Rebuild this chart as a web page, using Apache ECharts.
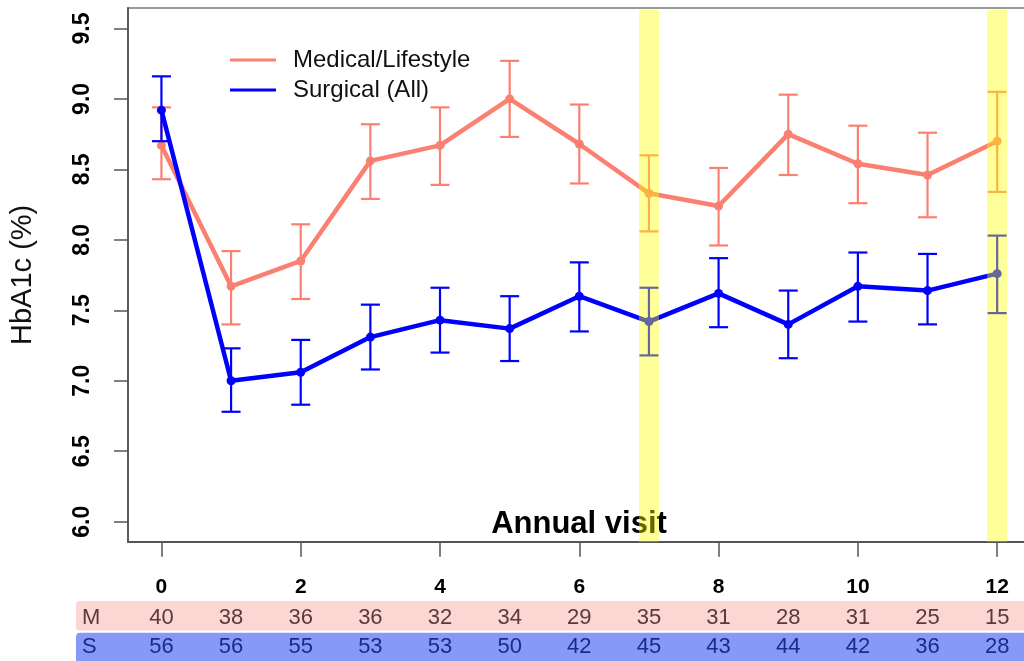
<!DOCTYPE html>
<html>
<head>
<meta charset="utf-8">
<title>HbA1c by annual visit</title>
<script src="https://cdn.jsdelivr.net/npm/echarts@6/dist/echarts.min.js"></script>
<style>
  html, body { margin: 0; padding: 0; background: #fff; overflow: hidden; }
  #chart { width: 1040px; height: 661px; }
</style>
</head>
<body>
<div id="chart"></div>
<script>
// Annual visit index
const visits = [0, 1, 2, 3, 4, 5, 6, 7, 8, 9, 10, 11, 12];
const evenTicks = [0, 2, 4, 6, 8, 10, 12];
const yTicks = [6.0, 6.5, 7.0, 7.5, 8.0, 8.5, 9.0, 9.5];

// Medical/Lifestyle group: mean HbA1c and error-bar limits
const medMean = [8.67, 7.67, 7.85, 8.56, 8.67, 9.00, 8.68, 8.33, 8.24, 8.75, 8.54, 8.46, 8.70];
const medLow  = [8.43, 7.40, 7.58, 8.29, 8.39, 8.73, 8.40, 8.06, 7.96, 8.46, 8.26, 8.16, 8.34];
const medHigh = [8.94, 7.92, 8.11, 8.82, 8.94, 9.27, 8.96, 8.60, 8.51, 9.03, 8.81, 8.76, 9.05];

// Surgical (All) group: mean HbA1c and error-bar limits
const surgMean = [8.92, 7.00, 7.06, 7.31, 7.43, 7.37, 7.60, 7.42, 7.62, 7.40, 7.67, 7.64, 7.76];
const surgLow  = [8.70, 6.78, 6.83, 7.08, 7.20, 7.14, 7.35, 7.18, 7.38, 7.16, 7.42, 7.40, 7.48];
const surgHigh = [9.16, 7.23, 7.29, 7.54, 7.66, 7.60, 7.84, 7.66, 7.87, 7.64, 7.91, 7.90, 8.03];

// Patients at risk per visit
const medN  = [40, 38, 36, 36, 32, 34, 29, 35, 31, 28, 31, 25, 15];
const surgN = [56, 56, 55, 53, 53, 50, 42, 45, 43, 44, 42, 36, 28];

// Highlighted visits
const highlightVisits = [7, 12];

const MED_COLOR = '#FA8072';
const SURG_COLOR = '#0000FF';
const FONT = '"Liberation Sans", Arial, Helvetica, sans-serif';

const chart = echarts.init(document.getElementById('chart'), null, { renderer: 'canvas' });

function errorBarRenderer(color) {
  return function (params, api) {
    const x = api.value(0);
    const lo = api.coord([x, api.value(1)]);
    const hi = api.coord([x, api.value(2)]);
    const cap = 9.5;
    const style = { stroke: color, lineWidth: 2.2 };
    return {
      type: 'group',
      children: [
        { type: 'line', shape: { x1: lo[0], y1: lo[1], x2: hi[0], y2: hi[1] }, style },
        { type: 'line', shape: { x1: lo[0] - cap, y1: lo[1], x2: lo[0] + cap, y2: lo[1] }, style },
        { type: 'line', shape: { x1: hi[0] - cap, y1: hi[1], x2: hi[0] + cap, y2: hi[1] }, style }
      ]
    };
  };
}

function countRenderer(rowY, color) {
  return function (params, api) {
    const p = api.coord([api.value(0), 7]);
    return {
      type: 'text',
      x: p[0],
      y: rowY,
      style: {
        text: String(api.value(1)),
        fill: color,
        font: '22px ' + FONT,
        align: 'center',
        verticalAlign: 'middle'
      }
    };
  };
}

const option = {
  animation: false,
  textStyle: { fontFamily: FONT },
  grid: {
    left: 128, top: 8, right: 9.4, bottom: 119.3,
    show: true, borderColor: '#7a7a7a', borderWidth: 1.5, backgroundColor: 'transparent'
  },
  legend: {
    orient: 'vertical',
    left: 225,
    top: 43,
    icon: 'rect',
    itemWidth: 46,
    itemHeight: 3,
    itemGap: 6,
    data: ['Medical/Lifestyle', 'Surgical (All)'],
    textStyle: { fontSize: 24, lineHeight: 24, color: '#111', padding: [0, 0, 0, 12] }
  },
  xAxis: {
    type: 'value',
    min: -0.48,
    max: 12.48,
    axisLine: { show: true, onZero: false, lineStyle: { color: '#555', width: 1.8 } },
    axisTick: { show: true, length: 15, customValues: evenTicks, lineStyle: { color: '#555', width: 1.5 } },
    axisLabel: {
      customValues: evenTicks, margin: 35,
      fontSize: 21, fontWeight: 'bold', color: '#000'
    },
    splitLine: { show: false }
  },
  yAxis: {
    type: 'value',
    min: 5.858,
    max: 9.645,
    name: 'HbA1c (%)',
    nameLocation: 'middle',
    nameGap: 105,
    nameTextStyle: { fontSize: 29, color: '#111', verticalAlign: 'middle' },
    axisLine: { show: true, onZero: false, lineStyle: { color: '#555', width: 1.8 } },
    axisTick: { show: true, length: 14, customValues: yTicks, lineStyle: { color: '#555', width: 1.5 } },
    axisLabel: {
      customValues: yTicks, rotate: 90, margin: 34,
      fontSize: 23, fontWeight: 'bold', color: '#000',
      formatter: v => v.toFixed(1)
    },
    splitLine: { show: false }
  },
  graphic: [
    { type: 'rect', shape: { x: 76, y: 601, width: 1000, height: 29.5, r: 4 }, style: { fill: '#fbd6d2' }, z: 0 },
    { type: 'rect', shape: { x: 76, y: 632.7, width: 1000, height: 40, r: 4 }, style: { fill: '#8799f6' }, z: 0 },
    { type: 'text', x: 82, y: 618, style: { text: 'M', font: '22px ' + FONT, fill: '#5a3a38', verticalAlign: 'middle' }, z: 1 },
    { type: 'text', x: 82, y: 647, style: { text: 'S', font: '22px ' + FONT, fill: '#1a2a8a', verticalAlign: 'middle' }, z: 1 },
    // x-axis title, drawn inside the plot just above the axis line
    { type: 'text', x: 579, y: 524, style: { text: 'Annual visit', font: 'bold 31px ' + FONT, fill: '#000', align: 'center', verticalAlign: 'middle' }, z: 1 }
  ],
  series: [
    {
      name: 'Medical/Lifestyle',
      type: 'line',
      data: visits.map((v, i) => [v, medMean[i]]),
      color: MED_COLOR,
      lineStyle: { width: 4.5 },
      symbol: 'circle',
      symbolSize: 9,
      z: 3
    },
    {
      name: 'Medical/Lifestyle',
      type: 'custom',
      data: visits.map((v, i) => [v, medLow[i], medHigh[i]]),
      renderItem: errorBarRenderer(MED_COLOR),
      z: 3
    },
    {
      name: 'Surgical (All)',
      type: 'line',
      data: visits.map((v, i) => [v, surgMean[i]]),
      color: SURG_COLOR,
      lineStyle: { width: 4.5 },
      symbol: 'circle',
      symbolSize: 9,
      z: 4
    },
    {
      name: 'Surgical (All)',
      type: 'custom',
      data: visits.map((v, i) => [v, surgLow[i], surgHigh[i]]),
      renderItem: errorBarRenderer(SURG_COLOR),
      z: 4
    },
    {
      // translucent yellow bands over highlighted visits
      type: 'custom',
      data: highlightVisits.map(v => [v]),
      renderItem: function (params, api) {
        const cs = params.coordSys;
        const left = api.coord([api.value(0) - 0.144, 7])[0];
        const right = api.coord([api.value(0) + 0.144, 7])[0];
        return {
          type: 'rect',
          shape: { x: left, y: cs.y + 2, width: right - left, height: cs.height - 2 },
          style: { fill: 'rgba(255,255,0,0.4)' }
        };
      },
      silent: true,
      z: 10
    },
    {
      type: 'custom',
      data: visits.map((v, i) => [v, medN[i]]),
      renderItem: countRenderer(618, '#5a3a38'),
      clip: false,
      silent: true,
      z: 5
    },
    {
      type: 'custom',
      data: visits.map((v, i) => [v, surgN[i]]),
      renderItem: countRenderer(647, '#1a2a8a'),
      clip: false,
      silent: true,
      z: 5
    }
  ]
};

chart.setOption(option);
</script>
</body>
</html>
